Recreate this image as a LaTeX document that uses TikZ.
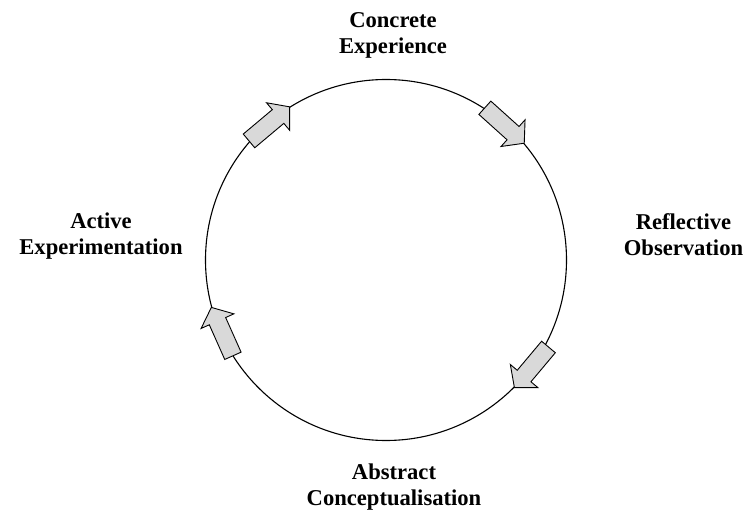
\documentclass[tikz,border=0pt]{standalone}
\usepackage{fontspec}
\setmainfont{Liberation Serif}
\usepackage{tikz}
\usetikzlibrary{shapes.arrows}

\begin{document}
\begin{tikzpicture}[x=1pt, y=1pt,
    stage/.style={circle, draw, line width=1.1pt, minimum size=361pt, inner sep=0pt},
    flow/.style={single arrow, draw, fill=gray!30, line width=0.9pt, inner sep=0pt,
        text height=8.5pt, text depth=8.5pt, minimum height=53pt,
        single arrow head extend=9pt, single arrow tip angle=100, anchor=tip},
    mylabel/.style={align=center, font=\fontsize{22.6pt}{26pt}\selectfont\bfseries}
    ]
\useasboundingbox (-386,-254) rectangle (363,260);
\node[stage] (cycle) at (0,0) {};

\node[flow, rotate=40] (ae2ce) at (cycle.122.5) {};
\node[flow, rotate=-42] (ce2ro) at (cycle.40.6) {};
\node[flow, rotate=-130] (ro2ac) at (cycle.-45.2) {};
\node[flow, rotate=114] (ac2ae) at (cycle.195.3) {};

\node[mylabel] (ce) at (7,224.2) {Concrete\\Experience};
\node[mylabel] (ro) at (297.5,25.6) {Reflective\\Observation};
\node[mylabel] (ac) at (8,-226.6) {Abstract\\Conceptualisation};
\node[mylabel] (ae) at (-285,24.2) {Active\\Experimentation};
\end{tikzpicture}
\end{document}
